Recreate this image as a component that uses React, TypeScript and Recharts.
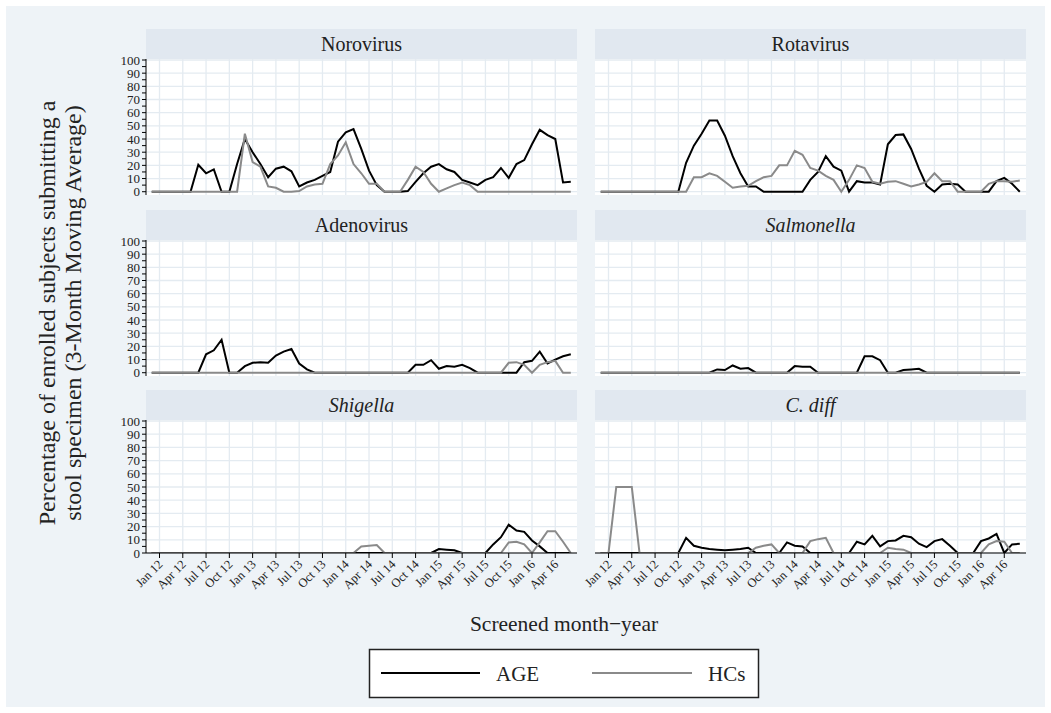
import { LineChart, Line, XAxis, YAxis, CartesianGrid } from "recharts"

// months Dec 11 .. Jun 16
const months = [
  "Dec 11",
  "Jan 12", "Feb 12", "Mar 12", "Apr 12", "May 12", "Jun 12", "Jul 12", "Aug 12", "Sep 12", "Oct 12", "Nov 12", "Dec 12",
  "Jan 13", "Feb 13", "Mar 13", "Apr 13", "May 13", "Jun 13", "Jul 13", "Aug 13", "Sep 13", "Oct 13", "Nov 13", "Dec 13",
  "Jan 14", "Feb 14", "Mar 14", "Apr 14", "May 14", "Jun 14", "Jul 14", "Aug 14", "Sep 14", "Oct 14", "Nov 14", "Dec 14",
  "Jan 15", "Feb 15", "Mar 15", "Apr 15", "May 15", "Jun 15", "Jul 15", "Aug 15", "Sep 15", "Oct 15", "Nov 15", "Dec 15",
  "Jan 16", "Feb 16", "Mar 16", "Apr 16", "May 16", "Jun 16",
]

const tickLabels = [
  "Jan 12", "Apr 12", "Jul 12", "Oct 12", "Jan 13", "Apr 13", "Jul 13", "Oct 13", "Jan 14",
  "Apr 14", "Jul 14", "Oct 14", "Jan 15", "Apr 15", "Jul 15", "Oct 15", "Jan 16", "Apr 16",
]
const xTicks = tickLabels.map((l) => months.indexOf(l))
const yTicks = [0, 5, 10, 15, 20, 25, 30, 35, 40, 45, 50, 55, 60, 65, 70, 75, 80, 85, 90, 95, 100]
const gridY = [0, 10, 20, 30, 40, 50, 60, 70, 80, 90, 100]

const noroAge = [0, 0, 0, 0, 0, 0, 20.5, 14, 17, 0, 0, 21, 40, 30, 21, 11, 17.5, 19, 15.5, 4, 7, 9, 12, 15, 38, 45, 47.5, 32.5, 16, 5, 0, 0, 0, 0.5, 7.5, 14, 19, 21, 17, 15, 9, 7, 5, 9, 11, 18, 10.5, 21, 24, 36, 47, 43, 40, 7, 7.5]
const noroHc = [0, 0, 0, 0, 0, 0, 0, 0, 0, 0, 0, 0, 44, 22.5, 19, 4, 3, 0, 0, 0.5, 4, 5.5, 6, 21, 27.5, 37.5, 21, 14, 6, 6, 0, 0, 0, 9, 19, 15, 6, 0, 2.5, 5, 7, 5, 0, 0, 0, 0, 0, 0, 0, 0, 0, 0, 0, 0, 0]
const rotaAge = [0, 0, 0, 0, 0, 0, 0, 0, 0, 0, 0, 22, 35, 44, 54, 54, 42.5, 27, 14, 4, 4, 0, 0, 0, 0, 0, 0, 9, 15, 27, 19, 16, 0, 8, 7, 7, 5.5, 36, 43, 43.5, 32.5, 17.5, 4.5, 0, 5.5, 6, 5.5, 0, 0, 0, 0, 8, 10.5, 6, 0]
const rotaHc = [0, 0, 0, 0, 0, 0, 0, 0, 0, 0, 0, 0, 11, 11, 14, 12, 7.5, 3, 4, 4.5, 8, 11, 12, 20, 20, 31, 28, 18, 16, 12, 9, 0, 9, 20, 18, 7.5, 6, 7.5, 8, 6, 4, 5.5, 7.5, 14, 8, 8, 0, 0, 0, 0, 6, 8, 8, 7.5, 8.5]
const adenoAge = [0, 0, 0, 0, 0, 0, 0, 14, 17, 25, 0, 0, 5, 7.5, 8, 7.5, 13, 16, 18, 7, 2.5, 0, 0, 0, 0, 0, 0, 0, 0, 0, 0, 0, 0, 0, 6, 6, 9.5, 3, 5, 4.5, 6, 3.5, 0, 0, 0, 0, 0, 0, 8, 9, 16, 7, 10, 12.5, 14]
const adenoHc = [0, 0, 0, 0, 0, 0, 0, 0, 0, 0, 0, 0, 0, 0, 0, 0, 0, 0, 0, 0, 0, 0, 0, 0, 0, 0, 0, 0, 0, 0, 0, 0, 0, 0, 0, 0, 0, 0, 0, 0, 0, 0, 0, 0, 0, 0, 7.5, 8, 6, 0, 6, 8, 9, 0, 0]
const salmAge = [0, 0, 0, 0, 0, 0, 0, 0, 0, 0, 0, 0, 0, 0, 0, 2.5, 2, 5.5, 3, 3.5, 0, 0, 0, 0, 0, 5, 4.5, 4.5, 0, 0, 0, 0, 0, 0, 12.5, 12.5, 9.5, 0, 0, 2, 2.5, 3, 0, 0, 0, 0, 0, 0, 0, 0, 0, 0, 0, 0, 0]
const salmHc = [0, 0, 0, 0, 0, 0, 0, 0, 0, 0, 0, 0, 0, 0, 0, 0, 0, 0, 0, 0, 0, 0, 0, 0, 0, 0, 0, 0, 0, 0, 0, 0, 0, 0, 0, 0, 0, 0, 0, 0, 0, 0, 0, 0, 0, 0, 0, 0, 0, 0, 0, 0, 0, 0, 0]
const shigAge = [0, 0, 0, 0, 0, 0, 0, 0, 0, 0, 0, 0, 0, 0, 0, 0, 0, 0, 0, 0, 0, 0, 0, 0, 0, 0, 0, 0, 0, 0, 0, 0, 0, 0, 0, 0, 0, 3, 2.5, 2, 0, 0, 0, 0, 6.5, 12, 21.5, 17, 16, 9.5, 5, 0, 0, 0, 0]
const shigHc = [0, 0, 0, 0, 0, 0, 0, 0, 0, 0, 0, 0, 0, 0, 0, 0, 0, 0, 0, 0, 0, 0, 0, 0, 0, 0, 0, 5, 5.5, 6, 0, 0, 0, 0, 0, 0, 0, 0, 0, 0, 0, 0, 0, 0, 0, 0, 8, 8.5, 6.5, 0, 8, 16.5, 16.5, 8.5, 0]
const cdiffAge = [0, 0, 0, 0, 0, 0, 0, 0, 0, 0, 0, 11.5, 5.5, 4, 3, 2.5, 2, 2.5, 3, 4, 0, 0, 0, 0, 8, 5.5, 5, 0, 0, 0, 0, 0, 0, 8.5, 6.5, 13, 5, 9, 9.5, 13, 12, 7, 4.5, 9, 10.5, 5.5, 0, 0, 0, 9, 11, 14.5, 0, 6.5, 7]
const cdiffHc = [0, 0, 50, 50, 50, 0, 0, 0, 0, 0, 0, 0, 0, 0, 0, 0, 0, 0, 0, 0, 4, 5.5, 6.5, 0, 0, 0, 0, 9, 10.5, 11.5, 0, 0, 0, 0, 0, 0, 0, 4, 3, 2.5, 0, 0, 0, 0, 0, 0, 0, 0, 0, 0, 6.5, 9, 8.5, 0, 0]

const panels = [
  { title: "Norovirus", italic: false, age: noroAge, hc: noroHc },
  { title: "Rotavirus", italic: false, age: rotaAge, hc: rotaHc },
  { title: "Adenovirus", italic: false, age: adenoAge, hc: adenoHc },
  { title: "Salmonella", italic: true, age: salmAge, hc: salmHc },
  { title: "Shigella", italic: true, age: shigAge, hc: shigHc },
  { title: "C. diff", italic: true, age: cdiffAge, hc: cdiffHc },
]

const FONT = "'Liberation Serif', Tinos, 'Times New Roman', 'Noto Serif', 'DejaVu Serif', FreeSerif, serif"
const AGE_COLOR = "#000000"
const HC_COLOR = "#8a8a8a"
const BG = "#eef3f7"
const STRIP = "#e1e8f0"
const PLOT_W = 431
const COL_X = [146, 595]
const HEAD_TOP = [29, 209.5, 390]

// eslint-disable-next-line @typescript-eslint/no-explicit-any
const XTick = ({ x, y, payload }: any) => {
  const tx = x + 4
  const ty = y + 5
  return (
    <text
      x={tx}
      y={ty}
      transform={`rotate(-45 ${tx} ${ty})`}
      textAnchor="end"
      fontSize={12.5}
      fontFamily={FONT}
      fill="#222"
    >
      {months[payload.value]}
    </text>
  )
}

function Panel({ idx }: { idx: number }) {
  const p = panels[idx]
  const col = idx % 2
  const row = Math.floor(idx / 2)
  const isLeft = col === 0
  const isBottom = row === 2
  const data = months.map((m, i) => ({ m: i, label: m, AGE: p.age[i], HCs: p.hc[i] }))
  const plotX = COL_X[col]
  const headTop = HEAD_TOP[row]
  const plotTop = headTop + 30
  const plotH = isBottom ? 133 : 136
  const yW = isLeft ? 50 : 1
  const mLeft = isLeft ? 0 : 40
  const mTop = 8
  const xH = isBottom ? 62 : 1
  const mBottom = isBottom ? 0 : 7
  const yDomain = isBottom ? [0, 100.76] : [-2.5, 100.76]

  return (
    <>
      <div
        style={{
          position: "absolute", left: plotX, top: headTop, width: PLOT_W, height: 30,
          background: STRIP, textAlign: "center", lineHeight: "30px", fontSize: 20,
          fontFamily: FONT, fontStyle: p.italic ? "italic" : "normal", color: "#222",
        }}
      >
        {p.title}
      </div>
      <div style={{ position: "absolute", left: plotX - yW - mLeft, top: plotTop - mTop }}>
        <LineChart
          width={PLOT_W + yW + mLeft}
          height={plotH + mTop + mBottom + xH}
          data={data}
          margin={{ top: mTop, right: 0, bottom: mBottom, left: mLeft }}
        >
          <CartesianGrid
            fill="#ffffff"
            stroke="#e4ebf1"
            strokeWidth={1.3}
            horizontalValues={gridY}
            verticalValues={xTicks}
          />
          {isBottom ? (
            <XAxis
              dataKey="m" type="number" domain={[-0.74, 54.8]} allowDataOverflow
              ticks={xTicks} interval={0} height={xH} tick={<XTick />}
              tickSize={5} stroke="#000" tickLine={{ stroke: "#000" }}
            />
          ) : (
            <XAxis
              dataKey="m" type="number" domain={[-0.74, 54.8]} allowDataOverflow
              ticks={xTicks} interval={0} height={xH} tickFormatter={() => ""}
              tickLine={false} axisLine={false}
            />
          )}
          {isLeft ? (
            <YAxis
              type="number" domain={yDomain} allowDataOverflow ticks={yTicks} interval={0}
              width={yW} tickSize={4} tickMargin={2} stroke="#000"
              tick={{ fontSize: 13, fontFamily: FONT, fill: "#222" }}
              tickFormatter={(v) => (v % 10 === 0 ? String(v) : "")}
            />
          ) : (
            <YAxis
              type="number" domain={yDomain} allowDataOverflow ticks={yTicks} interval={0}
              width={yW} tickFormatter={() => ""} tickLine={false} axisLine={false}
            />
          )}
          <Line type="linear" dataKey="AGE" stroke={AGE_COLOR} strokeWidth={2} dot={false} isAnimationActive={false} />
          <Line type="linear" dataKey="HCs" stroke={HC_COLOR} strokeWidth={2} dot={false} isAnimationActive={false} />
        </LineChart>
      </div>
    </>
  )
}

export default function App() {
  return (
    <div style={{ position: "absolute", left: 0, top: 0, width: 1051, height: 713, background: "#fff", fontFamily: FONT }}>
      <div style={{ position: "absolute", left: 6, top: 6, width: 1039, height: 701, background: BG }} />
      {panels.map((_, i) => (
        <Panel key={i} idx={i} />
      ))}
      <svg width={1051} height={713} style={{ position: "absolute", left: 0, top: 0, pointerEvents: "none" }}>
        <text
          transform="translate(55 313) rotate(-90)" textAnchor="middle"
          fontSize={24} fontFamily={FONT} fill="#222"
        >
          Percentage of enrolled subjects submitting a
        </text>
        <text
          transform="translate(81 313) rotate(-90)" textAnchor="middle"
          fontSize={24} fontFamily={FONT} fill="#222"
        >
          stool specimen (3-Month Moving Average)
        </text>
        <text x={564} y={631} textAnchor="middle" fontSize={21.5} fontFamily={FONT} fill="#222">
          Screened month−year
        </text>
        <rect x={369.5} y={649.5} width={389} height={48} fill="#fff" stroke="#222" strokeWidth={1.5} />
        <line x1={381} y1={673} x2={480} y2={673} stroke={AGE_COLOR} strokeWidth={2} />
        <text x={496} y={681} fontSize={21} fontFamily={FONT} fill="#222">AGE</text>
        <line x1={592} y1={673} x2={692} y2={673} stroke={HC_COLOR} strokeWidth={2} />
        <text x={708} y={681} fontSize={21} fontFamily={FONT} fill="#222">HCs</text>
      </svg>
    </div>
  )
}
